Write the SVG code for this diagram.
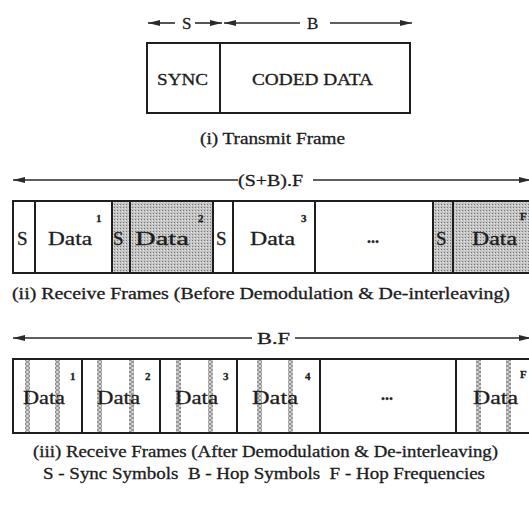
<svg xmlns="http://www.w3.org/2000/svg" width="529" height="507" viewBox="0 0 529 507">
<defs>
<style>
text{font-family:'Liberation Serif',serif;fill:#1c1c1c;stroke:#1c1c1c;stroke-width:0.3}
.cell{stroke:#1e1e1e;stroke-width:2}
.ln{stroke:#2a2a2a;stroke-width:1.6;fill:none;marker-end:url(#ah)}
.cap{font-size:16px}
.lbl{font-size:19px}
.sup{font-size:11px;font-weight:bold}
.dots{font-size:16px;font-weight:bold}
</style>
<marker id="ah" viewBox="0 0 12 6" refX="12" refY="3" markerWidth="12" markerHeight="6" markerUnits="userSpaceOnUse" orient="auto">
<path d="M0,0 L12,3 L0,6 Z" fill="#2a2a2a"/>
</marker>
<pattern id="stip" width="3" height="3" patternUnits="userSpaceOnUse">
<rect width="3" height="3" fill="#c4c4c4"/>
<rect x="0" y="0" width="1" height="1" fill="#767676"/>
<rect x="2" y="1" width="1" height="1" fill="#e6e6e6"/>
</pattern>
<pattern id="hatch" width="5" height="4" patternUnits="userSpaceOnUse">
<rect width="5" height="4" fill="#d8d8d8"/>
<path d="M0,0 L5,4 M5,0 L0,4" stroke="#7a7a7a" stroke-width="0.9"/>
</pattern>
</defs>

<g id="connectors">
<path class="ln" d="M175,23 L148,23"/>
<path class="ln" d="M195,23 L222,23"/>
<path class="ln" d="M300,23 L224,23"/>
<path class="ln" d="M330,23 L412,23"/>
<path class="ln" d="M238,180 L13,180"/>
<path class="ln" d="M313,180 L531,180"/>
<path class="ln" d="M252,338 L13,338"/>
<path class="ln" d="M295,338 L531,338"/>
</g>

<g id="all-text-holder" font-family="Liberation Serif, serif">
<g id="dim-labels">
<text x="182" y="29" style="font-size:17px">S</text>
<text x="307" y="29" style="font-size:17px">B</text>
<text x="238" y="186" class="cap" textLength="65" lengthAdjust="spacingAndGlyphs">(S+B).F</text>
<text x="257" y="344" class="cap" textLength="33" lengthAdjust="spacingAndGlyphs">B.F</text>
</g>

<g id="transmit-frame">
<g id="tx-sync">
<rect class="cell" x="147" y="43" width="73" height="70" fill="#fff"/>
<text x="157" y="85" style="font-size:16px" textLength="51" lengthAdjust="spacingAndGlyphs">SYNC</text>
</g>
<g id="tx-data">
<rect class="cell" x="220" y="43" width="190" height="70" fill="#fff"/>
<text x="252" y="85" style="font-size:16px" textLength="121" lengthAdjust="spacingAndGlyphs">CODED DATA</text>
</g>
<text x="200" y="144" class="cap" textLength="145" lengthAdjust="spacingAndGlyphs">(i) Transmit Frame</text>
</g>

<g id="receive-before">
<g id="rb-s1"><rect class="cell" x="13" y="201" width="22" height="72" fill="#fff"/><text x="17" y="245" class="lbl">S</text></g>
<g id="rb-d1"><rect class="cell" x="35" y="201" width="77" height="72" fill="#fff"/><text x="48" y="245" class="lbl" textLength="44" lengthAdjust="spacingAndGlyphs">Data</text><text x="96" y="222" class="sup">1</text></g>
<g id="rb-s2"><rect class="cell" x="112" y="201" width="18" height="72" fill="url(#stip)"/><text x="113" y="245" class="lbl">S</text></g>
<g id="rb-d2"><rect class="cell" x="130" y="201" width="83" height="72" fill="url(#stip)"/><text x="135" y="245" class="lbl" textLength="54" lengthAdjust="spacingAndGlyphs">Data</text><text x="198" y="222" class="sup">2</text></g>
<g id="rb-s3"><rect class="cell" x="213" y="201" width="20" height="72" fill="#fff"/><text x="216" y="245" class="lbl">S</text></g>
<g id="rb-d3"><rect class="cell" x="233" y="201" width="82" height="72" fill="#fff"/><text x="250" y="245" class="lbl" textLength="45" lengthAdjust="spacingAndGlyphs">Data</text><text x="301" y="222" class="sup">3</text></g>
<g id="rb-dots"><rect class="cell" x="315" y="201" width="118" height="72" fill="#fff"/><text x="373" y="243" class="dots" text-anchor="middle">...</text></g>
<g id="rb-sf"><rect class="cell" x="433" y="201" width="20" height="72" fill="url(#stip)"/><text x="436" y="245" class="lbl">S</text></g>
<g id="rb-df"><rect class="cell" x="453" y="201" width="90" height="72" fill="url(#stip)"/><text x="472" y="245" class="lbl" textLength="45" lengthAdjust="spacingAndGlyphs">Data</text><text x="520" y="220" class="sup">F</text></g>
<text x="12" y="299" class="cap" textLength="498" lengthAdjust="spacingAndGlyphs">(ii) Receive Frames (Before Demodulation &amp; De-interleaving)</text>
</g>

<g id="receive-after">
<g id="ra-d1"><rect class="cell" x="13" y="359" width="69" height="74" fill="#fff"/>
<rect x="25" y="360" width="5" height="72" fill="url(#hatch)"/><rect x="55" y="360" width="5" height="72" fill="url(#hatch)"/>
<text x="23" y="404" class="lbl" textLength="42" lengthAdjust="spacingAndGlyphs">Data</text><text x="70" y="380" class="sup">1</text></g>
<g id="ra-d2"><rect class="cell" x="82" y="359" width="78" height="74" fill="#fff"/>
<rect x="97" y="360" width="5" height="72" fill="url(#hatch)"/><rect x="129" y="360" width="5" height="72" fill="url(#hatch)"/>
<text x="97" y="404" class="lbl" textLength="43" lengthAdjust="spacingAndGlyphs">Data</text><text x="145" y="380" class="sup">2</text></g>
<g id="ra-d3"><rect class="cell" x="160" y="359" width="77" height="74" fill="#fff"/>
<rect x="176" y="360" width="5" height="72" fill="url(#hatch)"/><rect x="208" y="360" width="5" height="72" fill="url(#hatch)"/>
<text x="175" y="404" class="lbl" textLength="43" lengthAdjust="spacingAndGlyphs">Data</text><text x="223" y="380" class="sup">3</text></g>
<g id="ra-d4"><rect class="cell" x="237" y="359" width="83" height="74" fill="#fff"/>
<rect x="257" y="360" width="5" height="72" fill="url(#hatch)"/><rect x="288" y="360" width="5" height="72" fill="url(#hatch)"/>
<text x="252" y="404" class="lbl" textLength="46" lengthAdjust="spacingAndGlyphs">Data</text><text x="305" y="380" class="sup">4</text></g>
<g id="ra-dots"><rect class="cell" x="320" y="359" width="136" height="74" fill="#fff"/><text x="387" y="400" class="dots" text-anchor="middle">...</text></g>
<g id="ra-df"><rect class="cell" x="456" y="359" width="90" height="74" fill="#fff"/>
<rect x="476" y="360" width="5" height="72" fill="url(#hatch)"/><rect x="506" y="360" width="5" height="72" fill="url(#hatch)"/>
<text x="473" y="404" class="lbl" textLength="45" lengthAdjust="spacingAndGlyphs">Data</text><text x="520" y="378" class="sup">F</text></g>
<text x="33" y="457" class="cap" textLength="465" lengthAdjust="spacingAndGlyphs">(iii) Receive Frames (After Demodulation &amp; De-interleaving)</text>
</g>

<g id="legend">
<text x="43" y="479" class="cap" textLength="442" lengthAdjust="spacingAndGlyphs" xml:space="preserve">S - Sync Symbols  B - Hop Symbols  F - Hop Frequencies</text>
</g>
</g>
</svg>
